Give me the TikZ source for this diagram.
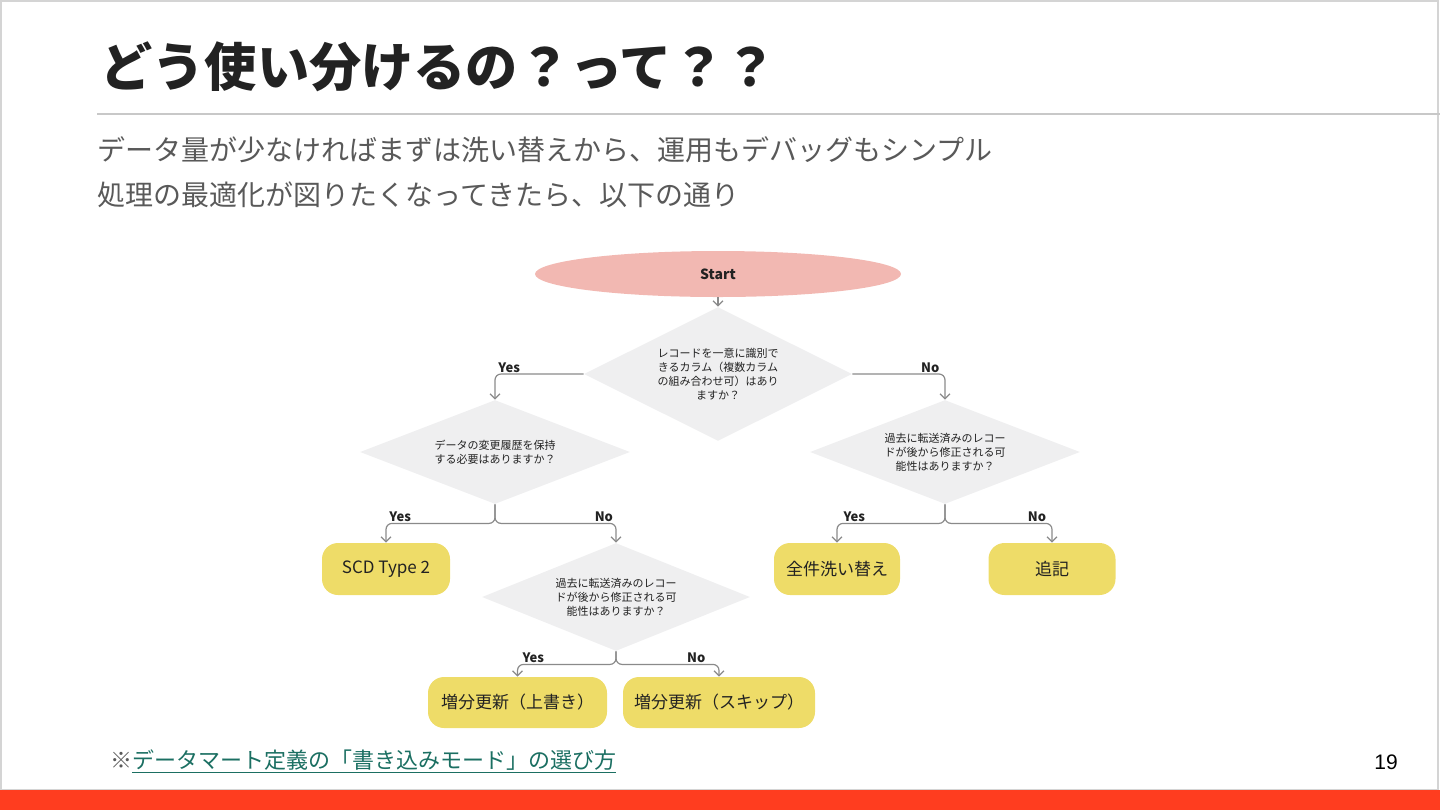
\documentclass[tikz,border=0pt]{standalone}
\usepackage{fontspec}
\setmainfont{Noto Sans CJK JP}
\newfontfamily\numfont{Liberation Sans}
\usetikzlibrary{arrows.meta,shapes.geometric}
\definecolor{ink}{HTML}{222222}
\definecolor{bodygray}{HTML}{595959}
\definecolor{rulegray}{HTML}{C8C8C8}
\definecolor{framegray}{HTML}{D4D4D4}
\definecolor{linegray}{HTML}{8A8A8A}
\definecolor{qgray}{HTML}{EFEFF0}
\definecolor{startPink}{HTML}{F2B8B2}
\definecolor{resultYellow}{HTML}{EEDC68}
\definecolor{linkTeal}{HTML}{1B6F62}
\definecolor{barRed}{HTML}{FF3D1F}

\begin{document}
\begin{tikzpicture}[
    x=0.5pt, y=-0.5pt,
    question/.style={diamond, aspect=2, fill=qgray, inner sep=0pt, align=center, text=ink, font=\fontsize{5.5}{7}\selectfont},
    result/.style={rectangle, rounded corners=8pt, fill=resultYellow, inner sep=0pt, minimum height=26pt, text=ink, font=\fontsize{8.5}{10}\selectfont},
    arrow/.style={-{Straight Barb[length=2.5pt, width=5pt]}, draw=linegray, line width=0.6pt, rounded corners=3pt},
    branch/.style={above, inner sep=0.5pt, text=ink, font=\bfseries\fontsize{6.5}{7}\selectfont}
  ]
    \useasboundingbox (0,0) rectangle (1440,810);
    \draw[framegray, line width=0.8pt] (1,1) rectangle (1438,790);
    \fill[barRed] (0,790) rectangle (1440,810);

    % title and notes
    \node[anchor=base west, inner sep=0pt, text=ink, font=\bfseries\fontsize{26.1}{30}\selectfont] (title) at (100,86) {どう使い分けるの？って？？};
    \draw[rulegray, line width=1pt] (97,114) -- (1440,114);
    \node[anchor=base west, inner sep=0pt, text=bodygray, font=\fontsize{14}{16}\selectfont] (line1) at (97,160) {データ量が少なければまずは洗い替えから、運用もデバッグもシンプル};
    \node[anchor=base west, inner sep=0pt, text=bodygray, font=\fontsize{14}{16}\selectfont] (line2) at (97,205) {処理の最適化が図りたくなってきたら、以下の通り};
    \node[anchor=base west, inner sep=0pt, text=bodygray, font=\fontsize{11}{13}\selectfont] (note) at (110,768) {※\textcolor{linkTeal}{\underline{データマート定義の「書き込みモード」の選び方}}};
    \node[inner sep=0pt, text=black, font=\numfont\fontsize{10.5}{12}\selectfont] (page) at (1386,762) {19};

    % flowchart
    \node[ellipse, fill=startPink, minimum width=183pt, minimum height=23pt, inner sep=0pt, text=ink, font=\bfseries\fontsize{7}{8}\selectfont] (start) at (718,274) {Start};
    \node[question, minimum width=134pt, minimum height=67pt] (unique) at (718,374) {レコードを一意に識別で\\きるカラム（複数カラム\\の組み合わせ可）はあり\\ますか？};
    \node[question, minimum width=135pt, minimum height=52pt] (history) at (495,452) {データの変更履歴を保持\\する必要はありますか？};
    \node[question, minimum width=135pt, minimum height=52pt] (fixA) at (945,452) {過去に転送済みのレコー\\ドが後から修正される可\\能性はありますか？};
    \node[question, minimum width=134pt, minimum height=54pt] (fixB) at (616,597) {過去に転送済みのレコー\\ドが後から修正される可\\能性はありますか？};

    \node[result, minimum width=64pt] (scd) at (386,569) {SCD Type 2};
    \node[result, minimum width=63pt] (reload) at (837,569) {全件洗い替え};
    \node[result, minimum width=63.5pt] (append) at (1052,569) {追記};
    \node[result, minimum width=89.5pt, minimum height=25.5pt] (upsert) at (517.5,702.5) {増分更新（上書き）};
    \node[result, minimum width=96pt, minimum height=25.5pt] (skip) at (719,702.5) {増分更新（スキップ）};

    \draw[arrow] (start) -- (unique);
    \draw[arrow] (unique.west) -| node[branch, pos=0.42] {Yes} (history.north);
    \draw[arrow] (unique.east) -| node[branch, pos=0.42] {No} (fixA.north);
    \draw[arrow] (history.south) -- ++(0,19) -| node[branch, pos=0.435] {Yes} (scd.north);
    \draw[arrow] (history.south) -- ++(0,19) -| node[branch, pos=0.45] {No} (fixB.north);
    \draw[arrow] (fixA.south) -- ++(0,19) -| node[branch, pos=0.42] {Yes} (reload.north);
    \draw[arrow] (fixA.south) -- ++(0,19) -| node[branch, pos=0.43] {No} (append.north);
    \draw[arrow] (fixB.south) -- ++(0,13) -| node[branch, pos=0.42] {Yes} (upsert.north);
    \draw[arrow] (fixB.south) -- ++(0,13) -| node[branch, pos=0.39] {No} (skip.north);
  \end{tikzpicture}
\end{document}
